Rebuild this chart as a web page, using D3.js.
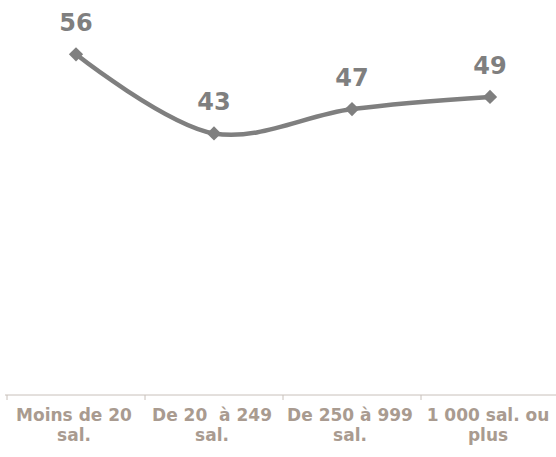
<!DOCTYPE html>
<html>
<head>
<meta charset="utf-8">
<script src="https://cdn.jsdelivr.net/npm/d3@7"></script>
<style>
  body { margin: 0; background: #fff; }
  text { font-family: "DejaVu Sans", Verdana, sans-serif; font-weight: bold; white-space: pre; }
</style>
</head>
<body>
<script>
// Chart size
var svgWidth = 556;
var svgHeight = 457;

var margin = { top: 30, right: -3, bottom: 62, left: 7 };

// Data
var categories = ["Moins de 20 sal.", "De 20  à 249 sal.", "De 250 à 999 sal.", "1 000 sal. ou plus"];
var labelLines = [["Moins de 20", "sal."], ["De 20  à 249", "sal."], ["De 250 à 999", "sal."], ["1 000 sal. ou", "plus"]];
var values = [56, 43, 47, 49];

var chartWidth = svgWidth - margin.left - margin.right;
var chartHeight = svgHeight - margin.top - margin.bottom;

var svg = d3.select("body")
  .append("svg")
  .attr("width", svgWidth)
  .attr("height", svgHeight);

var chartGroup = svg.append("g")
  .attr("transform", `translate(${margin.left}, ${margin.top})`);

var xScale = d3.scaleBand()
  .domain(categories)
  .range([0, chartWidth]);

var yScale = d3.scaleLinear()
  .domain([0, 60])
  .range([chartHeight, 0]);

var data = categories.map((c, i) => ({ cat: c, value: values[i], lines: labelLines[i] }));
var cx = d => xScale(d.cat) + xScale.bandwidth() / 2;

// x axis
var axisY = chartHeight;
chartGroup.append("line")
  .attr("x1", -2).attr("x2", chartWidth)
  .attr("y1", axisY).attr("y2", axisY)
  .attr("stroke", "#c8c0ba").attr("stroke-width", 1);

chartGroup.selectAll(".tick")
  .data(categories)
  .enter().append("line")
  .attr("x1", d => xScale(d))
  .attr("x2", d => xScale(d))
  .attr("y1", axisY).attr("y2", axisY + 5)
  .attr("stroke", "#c8c0ba").attr("stroke-width", 1);

// category labels
var labels = chartGroup.selectAll(".cat")
  .data(data)
  .enter().append("text")
  .attr("class", "cat")
  .attr("text-anchor", "middle")
  .attr("fill", "#a99b90")
  .style("font-size", "17px");
labels.selectAll("tspan")
  .data(d => d.lines.map(l => ({ l: l, x: cx(d) - 2 })))
  .enter().append("tspan")
  .attr("x", d => d.x)
  .attr("y", (d, i) => axisY + 26 + i * 20)
  .text(d => d.l);

// line
var drawLine = d3.line()
  .x(cx)
  .y(d => yScale(d.value))
  .curve(d3.curveCatmullRom.alpha(0.5));

chartGroup.append("path")
  .attr("d", drawLine(data))
  .attr("stroke", "#7f7f7f")
  .attr("stroke-width", 4.5)
  .style("fill", "none");

// markers
chartGroup.selectAll(".pt")
  .data(data)
  .enter().append("path")
  .attr("d", d3.symbol().type(d3.symbolDiamond2).size(130))
  .attr("transform", d => `translate(${cx(d)}, ${yScale(d.value)})`)
  .attr("fill", "#7f7f7f");

// value labels
chartGroup.selectAll(".val")
  .data(data)
  .enter().append("text")
  .attr("x", cx)
  .attr("y", d => yScale(d.value) - 23)
  .attr("text-anchor", "middle")
  .attr("fill", "#7f7f7f")
  .style("font-size", "24px")
  .text(d => d.value);
</script>
</body>
</html>
